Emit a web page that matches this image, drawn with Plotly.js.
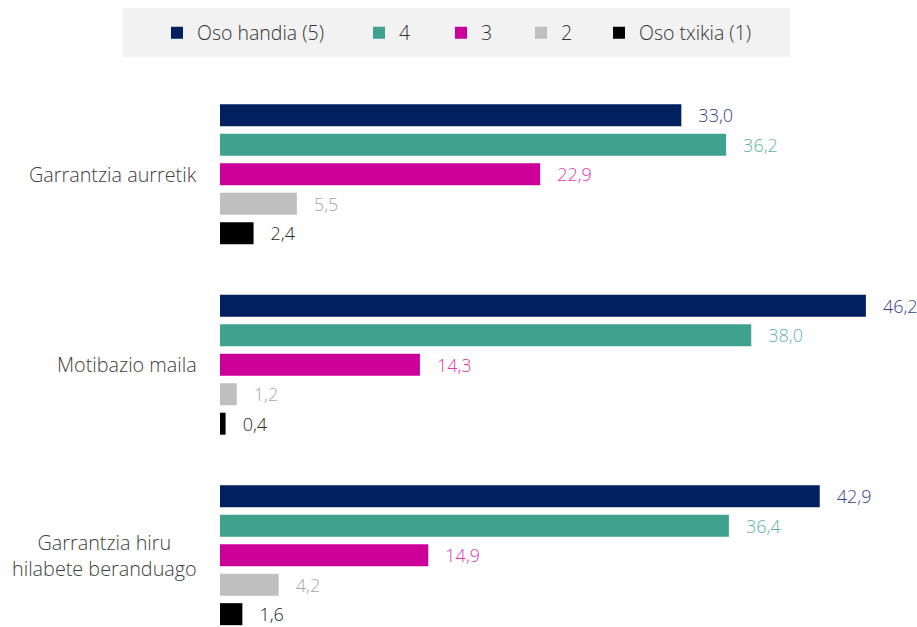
<!DOCTYPE html>
<html>
<head>
<meta charset="utf-8">
<script src="https://cdn.plot.ly/plotly-3.0.1.min.js"></script>
<style>html,body{margin:0;padding:0;background:#fff;}#chart{width:917px;height:627px;}</style>
</head>
<body>
<div id="chart"></div>
<script>
const categories = ["Garrantzia aurretik", "Motibazio maila", "Garrantzia hiru<br>hilabete beranduago"];
const seriesNames = ["Oso handia (5)", "4", "3", "2", "Oso txikia (1)"];
const s5 = [33.0, 46.2, 42.9];
const s4 = [36.2, 38.0, 36.4];
const s3 = [22.9, 14.3, 14.9];
const s2 = [5.5, 1.2, 4.2];
const s1 = [2.4, 0.4, 1.6];
const seriesValues = [s5, s4, s3, s2, s1];

const barColors = ["#002060", "#3EA28F", "#CC0099", "#BFBFBF", "#000000"];
const labelColors = ["#34418C", "#5BB4A2", "#DD3AB0", "#A6A6A6", "#262626"];
const legendLeftPx = [157, 359, 441, 521, 599];

const W = 917, H = 627, ML = 220, MT = 79, MB = 0, MR = 0;
const plotW = W - ML - MR, plotH = H - MT - MB;
const FONT = "Open Sans, Noto Sans, sans-serif";

const traces = seriesValues.map((vals, i) => ({
  type: "bar",
  orientation: "h",
  name: seriesNames[i],
  y: categories,
  x: vals,
  marker: {color: barColors[i], line: {width: 0}},
  text: vals.map(v => "\u00a0\u00a0\u00a0" + v.toFixed(1).replace(".", ",")),
  textposition: "outside",
  textfont: {color: labelColors[i], size: 18, family: FONT, weight: 300},
  cliponaxis: false,
  constraintext: "none",
  hoverinfo: "skip",
  legend: "legend" + (i + 2)
}));

const layout = {
  width: W, height: H,
  margin: {l: ML, r: MR, t: MT, b: MB},
  paper_bgcolor: "#ffffff",
  plot_bgcolor: "#ffffff",
  font: {family: FONT, color: "#404040", size: 17},
  showlegend: true,
  barmode: "group",
  bargap: 0.226,
  bargroupgap: 0.254,
  separators: ",.",
  xaxis: {range: [0, plotW / 13.98], showgrid: false, zeroline: false, showticklabels: false, showline: false, ticks: ""},
  yaxis: {type: "category", range: [2.377, -0.5], showgrid: false, zeroline: false, showticklabels: false, showline: false, ticks: ""},
  shapes: [{
    type: "rect", xref: "paper", yref: "paper", layer: "below",
    x0: (123 - ML) / plotW, x1: (790 - ML) / plotW,
    y0: (H - MB - 57) / plotH, y1: (H - MB - 8) / plotH,
    fillcolor: "#F2F2F2", line: {width: 0}
  }],
  annotations: categories.map(c => ({
    xref: "paper", yref: "y", x: (199 - ML) / plotW, y: c,
    text: c, showarrow: false, xanchor: "right", yanchor: "middle", align: "center",
    font: {family: FONT, size: 19.8, color: "#404040", weight: 300}
  }))
};

legendLeftPx.forEach((px, i) => {
  layout["legend" + (i + 2)] = {
    orientation: "h",
    x: (px - ML) / plotW, xanchor: "left",
    y: (H - MB - 33) / plotH, yanchor: "middle",
    bgcolor: "rgba(0,0,0,0)",
    font: {family: FONT, size: 19.5, color: "#333333", weight: 300},
    itemclick: false, itemdoubleclick: false
  };
});

Plotly.newPlot("chart", traces, layout, {displayModeBar: false, staticPlot: true});
</script>
</body>
</html>
